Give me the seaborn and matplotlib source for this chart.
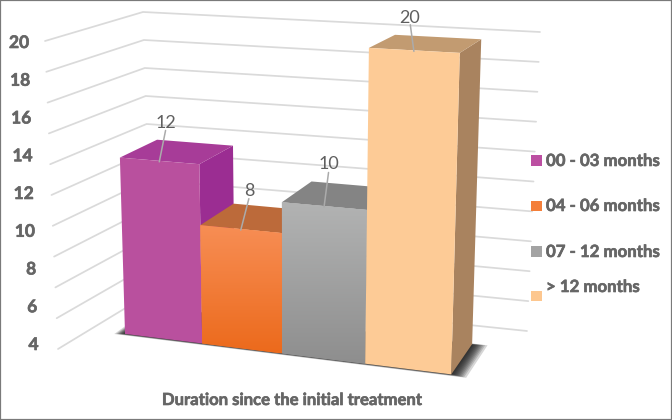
import numpy as np
import matplotlib
matplotlib.use("Agg")
import matplotlib.pyplot as plt
import matplotlib.patheffects as pe
import seaborn as sns
from matplotlib.colors import LinearSegmentedColormap
from matplotlib.patches import Polygon, Rectangle
from matplotlib.path import Path
from matplotlib.transforms import Transform

# ---------- data ----------
categories = ["00 - 03 months", "04 - 06 months", "07 - 12 months", "> 12 months"]
values = [12, 8, 10, 20]
tick_labels = ["4", "6", "8", "10", "12", "14", "16", "18", "20"]
grid_values = [0, 2, 4, 6, 8, 10, 12, 14, 16, 18, 20]
axis_title = "Duration since the initial treatment"

# ---------- style ----------
front_colors = ["#B9509E", "#F47F3A", "#A3A3A3", "#FDCB96"]
side_colors = ["#9B2D92", "#A85A2E", "#707070", "#A9835F"]
top_colors = ["#A73C98", "#BC6A3A", "#848484", "#C29B71"]
gradients = [None, ("#F78E55", "#EC6A1C"), ("#B2B3B3", "#8E8E8E"), None]
legend_swatch = ["#BC4FA2", "#F47F3A", "#A3A3A3", "#FDC78F"]
text_color = "#666666"
label_color = "#5F5F5F"
grid_color = "#DADADA"

sns.set_theme(style="white")
plt.rcParams["font.family"] = ["Lato", "DejaVu Sans"]
heavy = [pe.withStroke(linewidth=0.45, foreground=text_color)]

# ---------- camera calibration: (slot, value, depth) -> canvas pixel ----------
world = np.array([
    (0, 12, 0), (1, 12, 0), (0, 0, 0), (1, 0, 0), (2, 0, 0), (3, 0, 0), (4, 0, 0),
    (1, 8, 0), (2, 8, 0), (2, 10, 0), (3, 20, 0), (4, 20, 0),
    (0, 12, 1), (1, 12, 1), (3, 20, 1), (4, 20, 1), (4, 0, 1), (2, 10, 1)], float)
canvas = np.array([
    (120, 157), (200, 163), (125, 334), (203, 344), (282, 353), (364, 364), (451, 375),
    (200, 225), (282, 233), (282, 203), (369, 48), (460, 53),
    (157, 140), (232, 146), (395, 35), (481, 39), (473, 343), (312, 182)], float)
rows, rhs = [], []
for (a, b, c), (px, py) in zip(world, canvas):
    rows.append([a, b, c, 1, 0, 0, 0, 0, -px * a, -px * b, -px * c])
    rows.append([0, 0, 0, 0, a, b, c, 1, -py * a, -py * b, -py * c])
    rhs += [px, py]
sol = np.linalg.lstsq(np.array(rows), np.array(rhs), rcond=None)[0]
CAM = np.append(sol, 1.0).reshape(3, 4)


def project(u, v, d=0.0):
    u, v, d = np.broadcast_arrays(np.asarray(u, float), np.asarray(v, float), np.asarray(d, float))
    pts = np.stack([u, v, d, np.ones_like(u)], axis=-1) @ CAM.T
    return pts[..., :2] / pts[..., 2:]


class FrontPlane(Transform):
    """Maps seaborn's bar coordinates (x, value) on to the slanted front plane."""
    input_dims = 2
    output_dims = 2
    has_inverse = False

    def transform_non_affine(self, values):
        values = np.asarray(values, float)
        return project(values[:, 0] + 0.5, values[:, 1])


# ---------- figure ----------
fig = plt.figure(figsize=(6.72, 4.20), dpi=100, facecolor="white")
ax = fig.add_axes([0, 0, 1, 1])
positions = list(range(len(values)))
sns.barplot(x=positions, y=values, hue=categories, hue_order=categories,
            palette=dict(zip(categories, front_colors)), native_scale=True,
            dodge=False, width=1, saturation=1, legend=False, linewidth=0, ax=ax)
ax.set_xlim(0, 672)
ax.set_ylim(420, 0)
ax.set_autoscale_on(False)
ax.set_xticks([])
ax.set_yticks([])
ax.set_xlabel("")
ax.set_ylabel("")
for s in ax.spines.values():
    s.set_visible(True)
    s.set_color("#7A7A7A")
    s.set_linewidth(1.6)

front_tf = FrontPlane() + ax.transData

# walls
for gv in grid_values:
    f = gv / 20
    a = np.array([58, 349]) + f * np.array([-13, -308])
    b = np.array([152, 292]) + f * np.array([-9, -280])
    c = np.array([527, 331]) + f * np.array([13, -299])
    pts = np.array([a, b, c])
    ax.plot(pts[:, 0], pts[:, 1], color=grid_color, lw=1.25, zorder=1, solid_joinstyle="miter")

# floor shadow (soft, built from nested footprints)
n = len(values)
layers = 14
for k in range(layers):
    g = (k / (layers - 1)) ** 0.8
    u0, u1 = -0.12 + 0.14 * g, n + 0.18 - 0.20 * g
    d0, d1 = -0.045 + 0.065 * g, 1.02 - 0.05 * g
    corners = project([u0, u1, u1, u0], [0, 0, 0, 0], [d0, d0, d1, d1])
    ax.add_patch(Polygon(corners, closed=True, fc="#1E1E1E", ec="none", alpha=0.18, zorder=2))

# bars
bars = [c[0] for c in ax.containers]
for i, (patch, val) in enumerate(zip(bars, values)):
    z = 10 + 3 * i
    patch.set_transform(front_tf)
    patch.set_clip_on(False)
    patch.set_zorder(z + 1)
    side = project([i + 1, i + 1, i + 1, i + 1], [0, val, val, 0], [0, 0, 1, 1])
    top = project([i, i + 1, i + 1, i], [val, val, val, val], [0, 0, 1, 1])
    ax.add_patch(Polygon(side, closed=True, fc=side_colors[i], ec="none", zorder=z))
    ax.add_patch(Polygon(top, closed=True, fc=top_colors[i], ec="none", zorder=z))
    if gradients[i]:
        cmap = LinearSegmentedColormap.from_list("g", gradients[i])
        face = project([i, i + 1, i + 1, i], [0, 0, val, val])
        ext = (face[:, 0].min(), face[:, 0].max(), face[:, 1].max(), face[:, 1].min())
        im = ax.imshow(np.linspace(0, 1, 128)[:, None], cmap=cmap, extent=ext, aspect="auto",
                       origin="upper", zorder=z + 2, interpolation="bilinear")
        im.set_clip_path(Path([(i - 0.5, 0), (i + 0.5, 0), (i + 0.5, val), (i - 0.5, val), (i - 0.5, 0)],
                              closed=True), front_tf)
ax.set_xlim(0, 672)
ax.set_ylim(420, 0)

# data labels with leader lines
label_offsets = [(7, -38), (9, -38), (5, -42), (-4, -32)]
for i, (val, off) in enumerate(zip(values, label_offsets)):
    tip = project(i + 0.5, val, 0.0)
    ax.plot([tip[0] + off[0] * 0.9, tip[0]], [tip[1] + off[1] * 0.8, tip[1] + 1],
            color="#ABABAB", lw=1.1, zorder=40)
    ax.text(tip[0] + off[0], tip[1] + off[1], str(val), ha="center", va="center",
            fontsize=13, color=label_color, zorder=41)

# value-axis labels
tx = np.linspace(38.5, 29, len(tick_labels))
ty = np.linspace(345, 43, len(tick_labels))
for lab, x, y in zip(tick_labels, tx, ty):
    ax.text(x, y, lab, ha="right", va="center", fontsize=12.5, fontweight="bold",
            color=text_color, path_effects=heavy)

ax.text(291, 400, axis_title, ha="center", va="center", fontsize=12,
        fontweight="bold", color=text_color, path_effects=heavy)

# legend
text_y = [161, 206, 252, 287]
swatch_y = [160.5, 206, 251.5, 296]
for cat, col, ys, yt in zip(categories, legend_swatch, swatch_y, text_y):
    ax.add_patch(Rectangle((531, ys - 5.3), 10.5, 10.6, fc=col, ec="none", zorder=5))
    ax.text(546, yt, cat, ha="left", va="center", fontsize=12.1, fontweight="bold",
            color=text_color, path_effects=heavy)

fig.savefig("out.png", dpi=100, facecolor="white")
